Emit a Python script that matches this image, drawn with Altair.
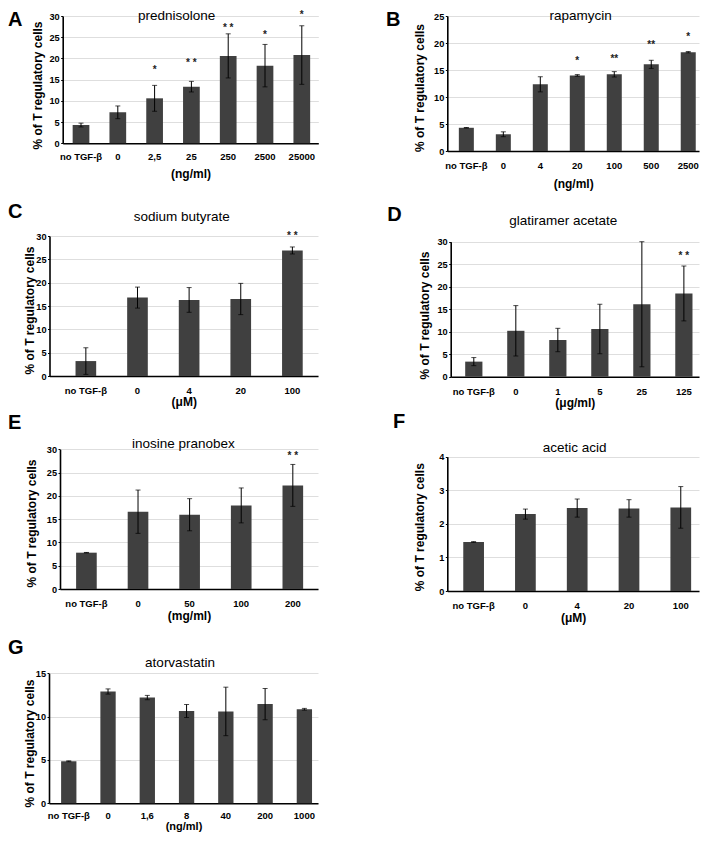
import altair as alt
import pandas as pd

# ---------------- data ----------------
A_cats = ["no TGF-β", "0", "2,5", "25", "250", "2500", "25000"]
A_vals = [4.3, 7.3, 10.6, 13.35, 20.6, 18.3, 20.8]
A_err = [0.45, 1.5, 3.05, 1.25, 5.2, 5.0, 6.9]
A_star = ["", "", "*", "* *", "* *", "*", "*"]
A_star_y = [0, 0, 18.05, 19.6, 27.9, 26.2, 30.9]

B_cats = ["no TGF-β", "0", "4", "20", "100", "500", "2500"]
B_vals = [4.3, 3.1, 12.35, 14.0, 14.2, 16.05, 18.3]
B_err = [0.05, 0.45, 1.4, 0.15, 0.5, 0.75, 0.12]
B_star = ["", "", "", "*", "**", "**", "*"]
B_star_y = [0, 0, 0, 17.2, 17.6, 20.1, 21.7]

C_cats = ["no TGF-β", "0", "4", "20", "100"]
C_vals = [3.2, 16.8, 16.3, 16.5, 26.9]
C_err = [2.85, 2.25, 2.65, 3.35, 0.75]
C_star = ["", "", "", "", "* *"]
C_star_y = [0, 0, 0, 0, 30.7]

D_cats = ["no TGF-β", "0", "1", "5", "25", "125"]
D_vals = [3.35, 10.2, 8.15, 10.6, 16.1, 18.5]
D_err = [0.9, 5.6, 2.6, 5.5, 13.9, 6.1]
D_star = ["", "", "", "", "", "* *"]
D_star_y = [0, 0, 0, 0, 0, 27.6]

E_cats = ["no TGF-β", "0", "50", "100", "200"]
E_vals = [7.8, 16.6, 15.95, 17.95, 22.25]
E_err = [0.05, 4.65, 3.45, 3.75, 4.5]
E_star = ["", "", "", "", "* *"]
E_star_y = [0, 0, 0, 0, 29.1]

F_cats = ["no TGF-β", "0", "4", "20", "100"]
F_vals = [1.46, 2.29, 2.47, 2.46, 2.49]
F_err = [0.01, 0.15, 0.27, 0.26, 0.62]
F_star = ["", "", "", "", ""]
F_star_y = [0, 0, 0, 0, 0]

G_cats = ["no TGF-β", "0", "1,6", "8", "40", "200", "1000"]
G_vals = [4.85, 12.9, 12.2, 10.65, 10.6, 11.45, 10.85]
G_err = [0.05, 0.3, 0.25, 0.75, 2.8, 1.8, 0.1]
G_star = ["", "", "", "", "", "", ""]
G_star_y = [0, 0, 0, 0, 0, 0, 0]

titles = ["prednisolone", "rapamycin", "sodium butyrate", "glatiramer acetate",
          "inosine pranobex", "acetic acid", "atorvastatin"]
letters = ["A", "B", "C", "D", "E", "F", "G"]
units = ["(ng/ml)", "(ng/ml)", "(μM)", "(μg/ml)", "(mg/ml)", "(μM)", "(ng/ml)"]
y_ticks = [[0, 5, 10, 15, 20, 25, 30], [0, 5, 10, 15, 20, 25], [0, 5, 10, 15, 20, 25, 30],
           [0, 5, 10, 15, 20, 25, 30], [0, 5, 10, 15, 20, 25, 30], [0, 1, 2, 3, 4], [0, 5, 10, 15]]
y_title = "% of T regulatory cells"

# ---------------- layout (pixels, chart coordinates) ----------------
# x0, x1, y_zero, y_top, paddingInner, paddingOuter, align
geom = [
    (54.7, 310.3, 135.3, 8.0, 0.546, 0.246, 0.55),
    (439.3, 691.0, 143.0, 8.0, 0.594, 0.20, 0.78),
    (41.5, 310.0, 368.0, 228.0, 0.60, 0.40, 0.63),
    (442.7, 691.0, 368.7, 233.7, 0.59, 0.25, 0.69),
    (52.0, 310.0, 581.0, 441.3, 0.60, 0.30, 0.52),
    (439.3, 691.0, 583.0, 448.7, 0.60, 0.23, 0.67),
    (41.0, 310.0, 795.3, 665.3, 0.61, 0.23, 0.67),
]
# y-title (x rel. axis, y abs), x-label padding, x-title y rel. axis
ytitle_pos = [(-25.7, 77), (-28.3, 79.5), (-20.5, 302), (-26.7, 307),
              (-28.7, 515), (-28, 518.7), (-19.5, 735)]
xlab_pad = [8.4, 9.7, 9.7, 10, 9.7, 9.3, 7.5]
xtitle_y = [30, 32.3, 25.7, 25.6, 26.5, 26.3, 23.6]
xtitle_size = [12, 12, 12, 12, 12, 12, 11]
title_pos = [(168.7, 7), (572.7, 7), (173.7, 209.3), (555.3, 212.7),
             (175.3, 436), (566.7, 440.3), (172, 655.3)]
letter_pos = [(0, 2), (378, 2), (0, 194), (379.3, 197), (0, 405), (385, 404), (0, 630)]

W, H = 692, 825
BAR = "#404040"
FONT = "Liberation Sans"

datasets = [
    (A_cats, A_vals, A_err, A_star, A_star_y),
    (B_cats, B_vals, B_err, B_star, B_star_y),
    (C_cats, C_vals, C_err, C_star, C_star_y),
    (D_cats, D_vals, D_err, D_star, D_star_y),
    (E_cats, E_vals, E_err, E_star, E_star_y),
    (F_cats, F_vals, F_err, F_star, F_star_y),
    (G_cats, G_vals, G_err, G_star, G_star_y),
]


def panel(i):
    cats, vals, errs, stars, star_y = datasets[i]
    x0, x1, yb, yt, pi, po, al = geom[i]
    ticks = y_ticks[i]
    df = pd.DataFrame({
        "cat": cats,
        "val": vals,
        "lo": [v - e for v, e in zip(vals, errs)],
        "hi": [v + e for v, e in zip(vals, errs)],
        "star": stars,
        "sy": star_y,
    })
    xscale = alt.Scale(domain=cats, range=[x0, x1], paddingInner=pi,
                       paddingOuter=po, align=al)
    yscale = alt.Scale(domain=[ticks[0], ticks[-1]], range=[yb, yt], nice=False, zero=False)
    xaxis = alt.Axis(orient="bottom", offset=yb - H, labelAngle=0, ticks=False,
                     labelPadding=xlab_pad[i], labelFont=FONT, labelFontWeight="bold",
                     labelFontSize=9.5, labelColor="black", domainColor="black",
                     domainWidth=1.6, grid=False, title=units[i], titleFont=FONT,
                     titleFontSize=xtitle_size[i], titleFontWeight="bold", titleColor="black",
                     titleY=xtitle_y[i], titleBaseline="middle")
    yaxis = alt.Axis(orient="left", offset=-x0, values=ticks, grid=True,
                     gridColor="#dedede", gridWidth=1, ticks=True, tickSize=2,
                     tickColor="black", labelPadding=1.5, labelFont=FONT,
                     labelFontWeight="bold", labelFontSize=9.2, labelColor="black",
                     domainColor="black", domainWidth=1.6, title=y_title,
                     titleFont=FONT, titleFontSize=12, titleFontWeight="bold",
                     titleColor="black", titleX=ytitle_pos[i][0], titleY=ytitle_pos[i][1],
                     titleBaseline="middle", titleAngle=270)
    X = alt.X("cat:N", scale=xscale, sort=cats, axis=xaxis)
    base = alt.Chart(df)
    bars = base.mark_bar(color=BAR).encode(
        x=X, y=alt.Y("val:Q", scale=yscale, axis=yaxis))
    rule = base.mark_rule(color="black", strokeWidth=1).encode(
        x=X, y=alt.Y("lo:Q", scale=yscale, axis=yaxis), y2="hi:Q")
    tick_hi = base.mark_tick(color="black", size=5, thickness=1, orient="horizontal").encode(
        x=X, y=alt.Y("hi:Q", scale=yscale, axis=yaxis))
    tick_lo = base.mark_tick(color="black", size=5, thickness=1, orient="horizontal").encode(
        x=X, y=alt.Y("lo:Q", scale=yscale, axis=yaxis))
    layers = [bars, rule, tick_hi, tick_lo]
    if any(s for s in stars):
        st = base.transform_filter("datum.star != ''").mark_text(
            font=FONT, fontSize=10, fontWeight="bold", color="#222222",
            baseline="middle", dy=3).encode(
            x=X, y=alt.Y("sy:Q", scale=yscale, axis=yaxis), text="star:N")
        layers.append(st)
    ttl = alt.Chart(alt.Data(values=[{"t": titles[i]}])).mark_text(
        font=FONT, fontSize=13.5, color="black", baseline="top" if i < 2 else "middle",
        align="center").encode(
        x=alt.value(title_pos[i][0]), y=alt.value(1 if i < 2 else title_pos[i][1]), text="t:N")
    let = alt.Chart(alt.Data(values=[{"t": letters[i]}])).mark_text(
        font=FONT, fontSize=20, fontWeight="bold", color="black", baseline="top",
        align="left").encode(
        x=alt.value(letter_pos[i][0]), y=alt.value(letter_pos[i][1]), text="t:N")
    layers += [ttl, let]
    return alt.layer(*layers)


chart = alt.layer(*[panel(i) for i in range(7)]).resolve_scale(
    x="independent", y="independent").resolve_axis(
    x="independent", y="independent").properties(
    width=W, height=H, padding=0,
    autosize=alt.AutoSizeParams(type="none"),
    background="white").configure_view(stroke=None)

chart.save("out.html", embed_options={"renderer": "svg", "actions": False})
